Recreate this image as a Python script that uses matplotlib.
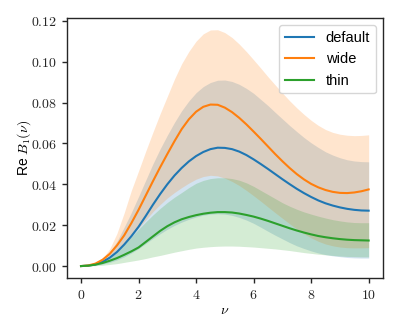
import matplotlib
matplotlib.use("Agg")
import matplotlib.pyplot as plt
from matplotlib.ticker import FuncFormatter
import numpy as np

plt.rcParams["font.family"] = ["Liberation Sans", "DejaVu Sans"]
plt.rcParams["mathtext.fontset"] = "cm"
plt.rcParams["font.size"] = 10

# Ioffe time grid
nu = np.arange(0, 10.001, 0.25)

# central curves
default_mid = [0.0, 0.0002, 0.0008, 0.0021, 0.0041, 0.0069, 0.0105, 0.0146, 0.0192, 0.0245, 0.030,
               0.0352, 0.040, 0.0443, 0.048, 0.0512, 0.0538, 0.0558, 0.0572, 0.0579, 0.0578,
               0.0572, 0.0560, 0.0543, 0.0522, 0.0499, 0.0475, 0.0450, 0.0425, 0.0401, 0.0378,
               0.0357, 0.0338, 0.0321, 0.0307, 0.0296, 0.0287, 0.0280, 0.0275, 0.0272, 0.0271]
wide_mid = [0.0, 0.0003, 0.0012, 0.0031, 0.006, 0.0101, 0.015, 0.021, 0.0275, 0.0345, 0.0415,
            0.0483, 0.0548, 0.0611, 0.067, 0.0718, 0.0755, 0.0779, 0.079, 0.0789, 0.0775,
            0.0753, 0.0725, 0.0693, 0.0658, 0.0622, 0.0585, 0.0548, 0.0513, 0.0480, 0.0450,
            0.0424, 0.0402, 0.0385, 0.0372, 0.0363, 0.0358, 0.0357, 0.0360, 0.0366, 0.0375]
thin_mid = [0.0, 0.0002, 0.0007, 0.0015, 0.0026, 0.0039, 0.0055, 0.0072, 0.0091, 0.0118, 0.0145,
            0.0172, 0.0195, 0.0214, 0.0229, 0.0240, 0.0249, 0.0256, 0.0261, 0.0264, 0.0264,
            0.0262, 0.0257, 0.0250, 0.0242, 0.0232, 0.0221, 0.0209, 0.0197, 0.0185, 0.0174,
            0.0164, 0.0155, 0.0147, 0.0141, 0.0136, 0.0132, 0.0129, 0.0127, 0.0126, 0.0125]

# uncertainty bands
default_lo = [0.0, 0.0001, 0.0004, 0.001, 0.0018, 0.003, 0.0045, 0.0064, 0.0085, 0.011, 0.0135,
              0.0158, 0.018, 0.0199, 0.0215, 0.0229, 0.024, 0.0249, 0.0254, 0.0256, 0.0254,
              0.0248, 0.0238, 0.0225, 0.0209, 0.019, 0.017, 0.0151, 0.0133, 0.0115, 0.0099,
              0.0086, 0.0074, 0.0064, 0.0056, 0.005, 0.0046, 0.0042, 0.004, 0.0039, 0.0039]
default_hi = [0.0, 0.0003, 0.0012, 0.0032, 0.0068, 0.0121, 0.019, 0.0262, 0.034, 0.042, 0.050,
              0.0573, 0.064, 0.0703, 0.076, 0.0808, 0.0848, 0.0878, 0.0898, 0.0909, 0.091,
              0.0903, 0.0889, 0.0869, 0.0845, 0.0815, 0.0785, 0.0752, 0.072, 0.0688, 0.0658,
              0.0629, 0.0603, 0.058, 0.0559, 0.0543, 0.053, 0.052, 0.0514, 0.0511, 0.051]
wide_lo = [0.0, 0.0003, 0.0013, 0.0029, 0.0052, 0.008, 0.0113, 0.0148, 0.0186, 0.0226, 0.0266,
           0.0301, 0.0333, 0.036, 0.0384, 0.0406, 0.0425, 0.0438, 0.0444, 0.0441, 0.043,
           0.0414, 0.0394, 0.037, 0.0344, 0.0317, 0.0289, 0.0261, 0.0234, 0.0207, 0.0181,
           0.0158, 0.0138, 0.0121, 0.0108, 0.0099, 0.0093, 0.009, 0.0089, 0.0089, 0.009]
wide_hi = [0.0, 0.0003, 0.0013, 0.0038, 0.0085, 0.016, 0.026, 0.037, 0.0465, 0.0562, 0.0655,
           0.0745, 0.083, 0.0915, 0.099, 0.105, 0.110, 0.1136, 0.1155, 0.1156, 0.1142,
           0.1118, 0.1086, 0.1049, 0.1009, 0.0968, 0.0926, 0.0886, 0.0847, 0.0809, 0.0774,
           0.0742, 0.0713, 0.0688, 0.0668, 0.0654, 0.0645, 0.064, 0.0638, 0.0639, 0.0642]
thin_lo = [0.0, 0.00005, 0.0002, 0.0004, 0.0008, 0.0012, 0.0018, 0.0024, 0.003, 0.0037, 0.0045,
           0.0052, 0.006, 0.0068, 0.0075, 0.0082, 0.0088, 0.0092, 0.0095, 0.0097, 0.0098,
           0.0098, 0.0097, 0.0095, 0.0093, 0.009, 0.0087, 0.0084, 0.008, 0.0076, 0.0071,
           0.0066, 0.0062, 0.0058, 0.0055, 0.0052, 0.0049, 0.0047, 0.0046, 0.0045, 0.0045]
thin_hi = [0.0, 0.0003, 0.0012, 0.0028, 0.005, 0.0077, 0.011, 0.0144, 0.018, 0.0216, 0.025,
           0.0282, 0.0311, 0.0337, 0.036, 0.0384, 0.0405, 0.0419, 0.0428, 0.0432, 0.0432,
           0.0428, 0.042, 0.0407, 0.039, 0.037, 0.035, 0.033, 0.031, 0.0293, 0.0278,
           0.0265, 0.0254, 0.0244, 0.0235, 0.0227, 0.0221, 0.0216, 0.0213, 0.0212, 0.0212]

series = [
    ("default", "C0", default_mid, default_lo, default_hi),
    ("wide", "C1", wide_mid, wide_lo, wide_hi),
    ("thin", "C2", thin_mid, thin_lo, thin_hi),
]

fig, ax = plt.subplots(figsize=(3.99, 3.32), dpi=100)
fig.subplots_adjust(left=0.167, right=0.96, top=0.946, bottom=0.163)

for name, col, mid, lo, hi in series:
    ax.plot(nu, mid, color=col, lw=1.5, label=name)
    ax.fill_between(nu, lo, hi, color=col, alpha=0.2, lw=0)

ax.set_xlabel(r"$\nu$", labelpad=1)
ax.set_ylabel(r"Re $B_1(\nu)$", labelpad=-1.5)
ax.set_yticks([0.0, 0.02, 0.04, 0.06, 0.08, 0.10, 0.12])
ax.set_xticks([0, 2, 4, 6, 8, 10])
ax.xaxis.set_major_formatter(FuncFormatter(lambda v, p: f"${v:.0f}$"))
ax.yaxis.set_major_formatter(FuncFormatter(lambda v, p: f"${v:.2f}$"))

for s in ax.spines.values():
    s.set_color("0.15")
    s.set_linewidth(1.0)
ax.tick_params(colors="0.15", length=3.5, width=1.0)

ax.legend(loc="upper right", fontsize=10.5)

fig.savefig("out.png", dpi=100)
